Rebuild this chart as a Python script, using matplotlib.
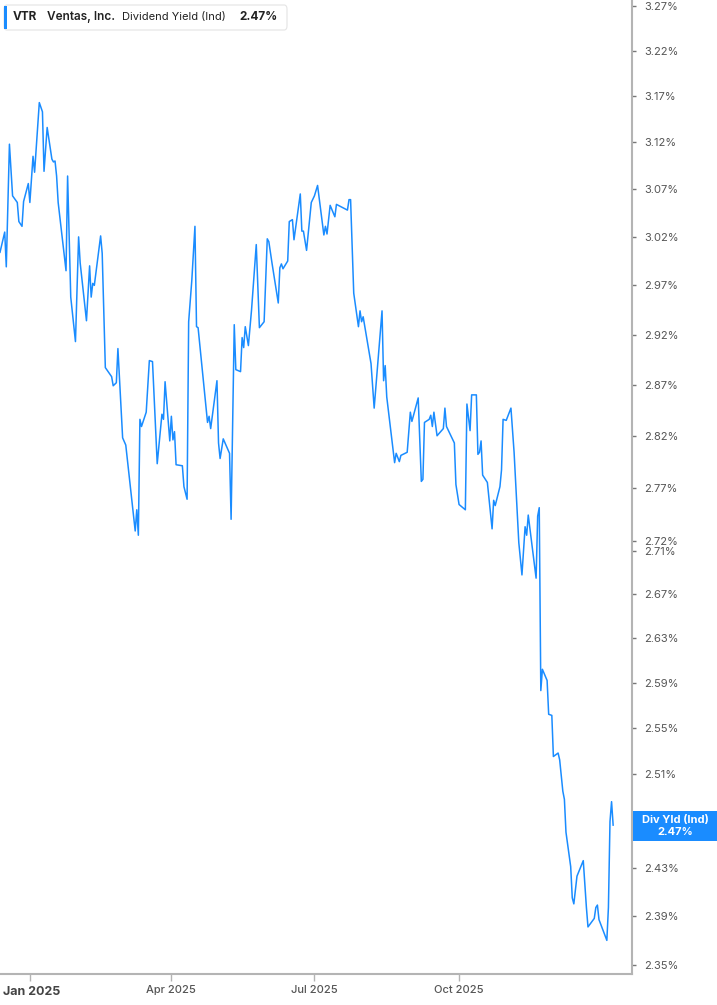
import pandas as pd
import matplotlib.pyplot as plt
import matplotlib.ticker as mticker
from matplotlib.patches import FancyBboxPatch, Rectangle

plt.rcParams['font.family'] = ['Inter', 'DejaVu Sans']

# dividend yield (%)
dates = [
    "2024-12-13", "2024-12-16", "2024-12-17", "2024-12-19", "2024-12-21", "2024-12-24",
    "2024-12-25", "2024-12-27", "2024-12-28", "2024-12-31", "2025-01-01", "2025-01-03",
    "2025-01-04", "2025-01-07", "2025-01-09", "2025-01-10", "2025-01-12", "2025-01-15",
    "2025-01-16", "2025-01-17", "2025-01-18", "2025-01-19", "2025-01-24", "2025-01-25",
    "2025-01-27", "2025-01-30", "2025-02-01", "2025-02-02", "2025-02-06", "2025-02-08",
    "2025-02-09", "2025-02-10", "2025-02-11", "2025-02-15", "2025-02-16", "2025-02-18",
    "2025-02-22", "2025-02-23", "2025-02-25", "2025-02-26", "2025-03-01", "2025-03-03",
    "2025-03-09", "2025-03-10", "2025-03-11", "2025-03-12", "2025-03-13", "2025-03-16",
    "2025-03-18", "2025-03-20", "2025-03-23", "2025-03-26", "2025-03-27", "2025-03-28",
    "2025-03-31", "2025-04-01", "2025-04-02", "2025-04-03", "2025-04-04", "2025-04-08",
    "2025-04-09", "2025-04-11", "2025-04-12", "2025-04-14", "2025-04-16", "2025-04-17",
    "2025-04-18", "2025-04-24", "2025-04-25", "2025-04-26", "2025-04-30", "2025-05-01",
    "2025-05-02", "2025-05-04", "2025-05-08", "2025-05-09", "2025-05-11", "2025-05-12",
    "2025-05-15", "2025-05-16", "2025-05-17", "2025-05-18", "2025-05-20", "2025-05-22",
    "2025-05-25", "2025-05-27", "2025-05-30", "2025-06-01", "2025-06-02", "2025-06-04",
    "2025-06-08", "2025-06-09", "2025-06-10", "2025-06-11", "2025-06-14", "2025-06-15",
    "2025-06-17", "2025-06-18", "2025-06-22", "2025-06-23", "2025-06-24", "2025-06-26",
    "2025-06-29", "2025-07-01", "2025-07-03", "2025-07-07", "2025-07-08", "2025-07-09",
    "2025-07-11", "2025-07-14", "2025-07-15", "2025-07-22", "2025-07-23", "2025-07-24",
    "2025-07-26", "2025-07-29", "2025-07-30", "2025-07-31", "2025-08-01", "2025-08-03",
    "2025-08-06", "2025-08-08", "2025-08-13", "2025-08-14", "2025-08-15", "2025-08-16",
    "2025-08-21", "2025-08-22", "2025-08-24", "2025-08-25", "2025-08-29", "2025-08-31",
    "2025-09-01", "2025-09-05", "2025-09-07", "2025-09-08", "2025-09-09", "2025-09-12",
    "2025-09-13", "2025-09-14", "2025-09-15", "2025-09-17", "2025-09-21", "2025-09-22",
    "2025-09-23", "2025-09-28", "2025-09-29", "2025-10-01", "2025-10-05", "2025-10-06",
    "2025-10-08", "2025-10-09", "2025-10-12", "2025-10-13", "2025-10-14", "2025-10-15",
    "2025-10-16", "2025-10-19", "2025-10-22", "2025-10-23", "2025-10-24", "2025-10-27",
    "2025-10-28", "2025-10-29", "2025-10-31", "2025-11-03", "2025-11-05", "2025-11-08",
    "2025-11-10", "2025-11-12", "2025-11-13", "2025-11-14", "2025-11-19", "2025-11-20",
    "2025-11-21", "2025-11-22", "2025-11-23", "2025-11-26", "2025-11-27", "2025-11-29",
    "2025-11-30", "2025-12-03", "2025-12-04", "2025-12-06", "2025-12-07", "2025-12-08",
    "2025-12-11", "2025-12-12", "2025-12-13", "2025-12-15", "2025-12-19", "2025-12-21",
    "2025-12-22", "2025-12-26", "2025-12-27", "2025-12-28", "2025-12-29", "2026-01-03",
    "2026-01-04", "2026-01-05", "2026-01-06", "2026-01-07",
]
yields = [
    3.004, 3.025, 2.989, 3.118, 3.063, 3.056, 3.036, 3.031, 3.057, 3.076, 3.056, 3.105,
    3.088, 3.163, 3.153, 3.089, 3.136, 3.102, 3.099, 3.100, 3.084, 3.056, 2.985, 3.084,
    2.958, 2.913, 3.020, 2.993, 2.934, 2.990, 2.958, 2.972, 2.970, 3.021, 3.003, 2.887,
    2.878, 2.869, 2.872, 2.906, 2.818, 2.811, 2.729, 2.749, 2.725, 2.836, 2.829, 2.843,
    2.894, 2.893, 2.793, 2.841, 2.836, 2.873, 2.815, 2.839, 2.816, 2.824, 2.792, 2.791,
    2.771, 2.759, 2.933, 2.975, 3.031, 2.928, 2.927, 2.833, 2.839, 2.827, 2.874, 2.813,
    2.798, 2.817, 2.803, 2.740, 2.930, 2.885, 2.883, 2.917, 2.907, 2.928, 2.909, 2.945,
    3.012, 2.927, 2.933, 3.018, 3.015, 2.993, 2.952, 2.988, 2.992, 2.987, 2.995, 3.036,
    3.038, 3.017, 3.065, 3.026, 3.026, 3.006, 3.056, 3.063, 3.074, 3.022, 3.031, 3.023,
    3.053, 3.041, 3.054, 3.048, 3.059, 3.059, 2.962, 2.928, 2.944, 2.933, 2.938, 2.919,
    2.891, 2.847, 2.944, 2.874, 2.889, 2.858, 2.794, 2.803, 2.795, 2.801, 2.804, 2.843,
    2.834, 2.857, 2.776, 2.778, 2.833, 2.836, 2.840, 2.829, 2.843, 2.820, 2.827, 2.847,
    2.829, 2.813, 2.773, 2.754, 2.749, 2.851, 2.825, 2.860, 2.860, 2.802, 2.804, 2.815,
    2.782, 2.775, 2.731, 2.758, 2.753, 2.771, 2.787, 2.836, 2.835, 2.847, 2.804, 2.718,
    2.688, 2.733, 2.725, 2.744, 2.685, 2.743, 2.751, 2.583, 2.602, 2.592, 2.562, 2.561,
    2.525, 2.528, 2.522, 2.495, 2.488, 2.460, 2.431, 2.405, 2.400, 2.423, 2.436, 2.397,
    2.381, 2.388, 2.397, 2.399, 2.387, 2.370, 2.397, 2.469, 2.486, 2.466,
]

y_ticks = [3.27, 3.22, 3.17, 3.12, 3.07, 3.02, 2.97, 2.92, 2.87, 2.82, 2.77,
           2.72, 2.71, 2.67, 2.63, 2.59, 2.55, 2.51, 2.47, 2.43, 2.39, 2.35]
x_ticks = ["2025-01-01", "2025-04-01", "2025-07-01", "2025-10-01"]
x_labels = ["Apr 2025", "Jul 2025", "Oct 2025"]

ticker = "VTR"
company = "Ventas, Inc."
metric = "Dividend Yield (Ind)"
last_value = "2.47%"

blue = "#1a8cff"
axis_grey = "#b4b4b4"
label_grey = "#555555"

s = pd.Series(yields, index=pd.to_datetime(dates))

fig = plt.figure(figsize=(7.17, 10.05), dpi=100)
ax = fig.add_axes([0.0, 31 / 1005, 632 / 717, 974 / 1005])

ax.plot(s.index, s.values, color=blue, linewidth=1.1)

ax.set_yscale("log")
ax.set_ylim(2.3427, 3.2768)
ax.set_xlim(pd.Timestamp("2024-12-13"), pd.Timestamp("2026-01-19"))

ax.yaxis.tick_right()
ax.yaxis.set_major_locator(mticker.FixedLocator(y_ticks))
ax.yaxis.set_minor_locator(mticker.NullLocator())
ax.yaxis.set_major_formatter(mticker.FixedFormatter(
    ["" if v == 2.47 else f"{v:.2f}%" for v in y_ticks]))
ax.yaxis.set_minor_formatter(mticker.NullFormatter())
ax.tick_params(axis="y", direction="out", length=3, width=1, color="#777777",
               labelsize=8, labelcolor=label_grey, pad=6)

ax.set_xticks(pd.to_datetime(x_ticks))
ax.set_xticklabels([""] + x_labels)
ax.tick_params(axis="x", direction="out", length=5, width=1, color=axis_grey,
               labelsize=8, labelcolor=label_grey, pad=3)
for lbl in ax.get_xticklabels():
    lbl.set_fontweight("medium")
ax.text(3 / 632, -0.0185, "Jan 2025", transform=ax.transAxes, ha="left", va="center",
        fontsize=9, fontweight="bold", color="#444444")

for side in ["top", "left"]:
    ax.spines[side].set_visible(False)
for side in ["right", "bottom"]:
    ax.spines[side].set_color(axis_grey)
    ax.spines[side].set_linewidth(1.5)

W, H = 717, 1005

# legend box at the top left
box = FancyBboxPatch((4 / W, 1 - 30 / H), 283 / W, 25 / H,
                     boxstyle="round,pad=0,rounding_size=0.004",
                     transform=fig.transFigure, facecolor="white",
                     edgecolor="#e4e4e4", linewidth=0.8)
fig.patches.append(box)
bar = Rectangle((4 / W, 1 - 29 / H), 3 / W, 23 / H, transform=fig.transFigure,
                facecolor=blue, edgecolor="none")
fig.patches.append(bar)
ty = 1 - 17 / H
fig.text(13 / W, ty, ticker, fontsize=8.5, fontweight="bold", color="#222222", va="center")
fig.text(47 / W, ty, company, fontsize=8.5, fontweight="semibold", color="#222222", va="center")
fig.text(122 / W, ty, metric, fontsize=8, fontweight="normal", color="#222222", va="center")
fig.text(239 / W, ty, last_value, fontsize=8.5, fontweight="bold", color="#222222", va="center")

# last value marker on the right axis
tag = Rectangle((633 / W, 1 - 841 / H), 84 / W, 30 / H, transform=fig.transFigure,
                facecolor=blue, edgecolor="none")
fig.patches.append(tag)
fig.text(675 / W, 1 - 820 / H, "Div Yld (Ind)", fontsize=8, fontweight="bold",
         color="white", ha="center", va="center")
fig.text(675 / W, 1 - 832 / H, last_value, fontsize=8, fontweight="bold",
         color="white", ha="center", va="center")

fig.savefig("out.png", dpi=100)
